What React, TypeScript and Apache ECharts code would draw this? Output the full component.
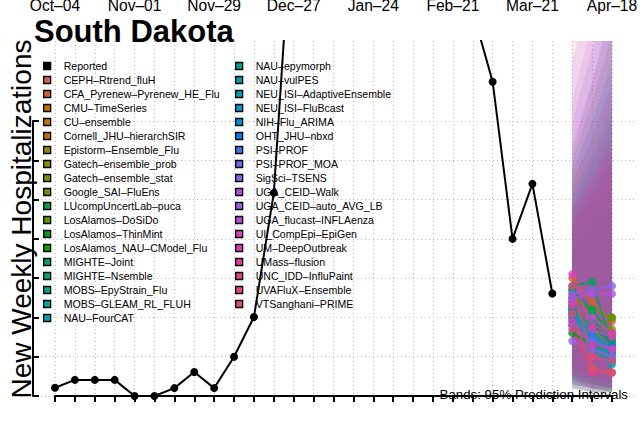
import React, { useEffect, useRef } from "react";
import * as echarts from "echarts";

const FONT = "'Liberation Sans', Arial, Helvetica, sans-serif";

// Top axis tick labels (every 4 weeks starting week 0)
const tickLabels = ["Oct–04", "Nov–01", "Nov–29", "Dec–27", "Jan–24", "Feb–21", "Mar–21", "Apr–18"];

// Reported weekly hospitalizations (weeks since Oct-04)
const reportedWeeks = [0, 1, 2, 3, 4, 5, 6, 7, 8, 9, 10, 11, 12, 13, 14, 15, 16, 17, 18, 19, 20, 21, 22, 23, 24, 25];
const reportedValues = [2.1, 4.1, 4.1, 4.1, 0, 0, 2.0, 6.1, 2.0, 10, 20.1, 51.7, 129, 165, 190, 200, 185, 170, 150, 135, 115, 98, 80, 40, 54, 26.1];

const forecastWeeks = [26, 27, 28];

const modelNames = [
  "CEPH–Rtrend_fluH",
  "CFA_Pyrenew–Pyrenew_HE_Flu",
  "CMU–TimeSeries",
  "CU–ensemble",
  "Cornell_JHU–hierarchSIR",
  "Epistorm–Ensemble_Flu",
  "Gatech–ensemble_prob",
  "Gatech–ensemble_stat",
  "Google_SAI–FluEns",
  "LUcompUncertLab–puca",
  "LosAlamos–DoSiDo",
  "LosAlamos–ThinMint",
  "LosAlamos_NAU–CModel_Flu",
  "MIGHTE–Joint",
  "MIGHTE–Nsemble",
  "MOBS–EpyStrain_Flu",
  "MOBS–GLEAM_RL_FLUH",
  "NAU–FourCAT",
  "NAU–epymorph",
  "NAU–vulPES",
  "NEU_ISI–AdaptiveEnsemble",
  "NEU_ISI–FluBcast",
  "NIH–Flu_ARIMA",
  "OHT_JHU–nbxd",
  "PSI–PROF",
  "PSI–PROF_MOA",
  "SigSci–TSENS",
  "UGA_CEID–Walk",
  "UGA_CEID–auto_AVG_LB",
  "UGA_flucast–INFLAenza",
  "UI_CompEpi–EpiGen",
  "UM–DeepOutbreak",
  "UMass–flusion",
  "UNC_IDD–InfluPaint",
  "UVAFluX–Ensemble",
  "VTSanghani–PRIME",
];

const modelColors = [
  "#D9604E", "#D2602E", "#CC6A00", "#C07500", "#C07000", "#948600", "#8B8B00", "#7E8E00", "#6E9300",
  "#00A048", "#5A9600", "#009A1A", "#00A000", "#00A060", "#00A373", "#00A488", "#00A59C", "#00A0B0",
  "#00A08A", "#00A0A0", "#009DB8", "#0099C8", "#0090D8", "#0080E8", "#3A78E8", "#6A6AE8", "#8A60E6",
  "#B050DF", "#9660E0", "#C048D8", "#D83EC0", "#DE3DAE", "#E03E9C", "#E04488", "#E04A74", "#DD5060",
];

// Medians for weeks 26, 27, 28
const medians = [
  [22, 16, 12], [30, 24, 19], [24, 18, 14], [21, 15, 11], [26, 20, 16], [23, 17, 13], [20, 16, 14],
  [22, 19, 17], [25, 22, 20], [27, 22, 15], [18, 16, 20], [16, 13, 11], [22, 18, 14], [28, 29, 13],
  [27, 21, 12], [24, 17, 10], [21, 14, 9], [23, 16, 9], [25, 19, 15], [19, 12, 8], [22, 15, 10],
  [20, 13, 9], [21, 16, 12], [23, 18, 13], [20, 15, 11], [18, 14, 12], [26, 27, 28], [25, 26, 26],
  [14, 12, 10], [24, 20, 16], [31, 17, 15], [19, 13, 12], [23, 18, 16], [17, 6, 6], [28, 10, 9], [21, 7, 6],
];

// 95% PI lower bounds
const lower = [
  [6, 4, 3], [9, 6, 4], [7, 5, 3], [5, 3, 2], [4, 3, 2], [8, 5, 4], [6, 4, 3], [7, 5, 4], [8, 6, 5],
  [3, 2, 1], [5, 4, 3], [4, 3, 2], [2, 1, 1], [9, 6, 3], [8, 5, 3], [5, 3, 2], [4, 2, 1], [3, 2, 1],
  [2, 1, 1], [3, 2, 1], [7, 4, 3], [5, 3, 2], [4, 3, 2], [6, 4, 3], [5, 3, 2], [3, 2, 2], [6, 5, 4],
  [3, 2, 2], [5, 4, 3], [2, 1, 1], [4, 2, 2], [6, 4, 3], [7, 5, 4], [2, 1, 1], [5, 2, 2], [4, 2, 1],
];

// 95% PI upper bounds
const upper = [
  [40, 48, 55], [45, 52, 60], [36, 40, 44], [38, 44, 50], [48, 58, 68], [37, 42, 47], [40, 44, 48],
  [42, 48, 54], [38, 42, 48], [50, 60, 72], [36, 40, 45], [44, 52, 60], [60, 75, 92], [42, 46, 50],
  [43, 48, 54], [45, 52, 60], [48, 56, 66], [52, 62, 74], [62, 80, 100], [56, 70, 86], [40, 45, 50],
  [44, 50, 58], [54, 66, 80], [46, 54, 64], [50, 60, 70], [70, 88, 105], [58, 70, 84], [85, 105, 125],
  [48, 56, 66], [75, 95, 115], [64, 80, 98], [46, 54, 62], [44, 50, 56], [92, 115, 140], [48, 55, 64],
  [55, 65, 78],
];

const col1 = ["Reported", ...modelNames.slice(0, 18)];
const col2 = modelNames.slice(18);

export default function App() {
  const ref = useRef<HTMLDivElement>(null);

  useEffect(() => {
    if (!ref.current) return;
    const chart = echarts.init(ref.current, null, { renderer: "svg" });

    // One band row per model: [w, lo, hi] for each forecast week, flattened
    const bandRows = modelNames.map((_, m) => {
      const row: number[] = [];
      forecastWeeks.forEach((w, i) => row.push(w, lower[m][i], upper[m][i]));
      return row;
    });
    const nW = forecastWeeks.length;
    const xDims = forecastWeeks.map((_, i) => i * 3);
    const yDims: number[] = [];
    forecastWeeks.forEach((_, i) => yDims.push(i * 3 + 1, i * 3 + 2));

    const bandSeries = {
      type: "custom",
      name: "bands",
      xAxisIndex: 0,
      yAxisIndex: 0,
      clip: true,
      z: 2,
      silent: true,
      encode: { x: xDims, y: yDims },
      data: bandRows,
      renderItem: (params: any, api: any) => {
        const bot: number[][] = [];
        const top: number[][] = [];
        for (let i = 0; i < nW; i++) {
          bot.push(api.coord([api.value(i * 3), api.value(i * 3 + 1)]));
          top.push(api.coord([api.value(i * 3), api.value(i * 3 + 2)]));
        }
        top.reverse();
        return {
          type: "polygon",
          shape: { points: bot.concat(top) },
          style: { fill: echarts.color.modifyAlpha(modelColors[params.dataIndex], 0.12), stroke: "none" },
        };
      },
    };

    const medianSeries = modelNames.map((name, m) => ({
      type: "line",
      name,
      xAxisIndex: 0,
      yAxisIndex: 0,
      z: 3,
      symbol: "circle",
      symbolSize: 8,
      showSymbol: true,
      color: modelColors[m],
      itemStyle: { color: modelColors[m], opacity: 0.8 },
      lineStyle: { color: modelColors[m], width: 2, opacity: 0.8 },
      data: forecastWeeks.map((w, i) => [w, medians[m][i]]),
    }));

    const reported = {
      type: "line",
      name: "Reported",
      xAxisIndex: 0,
      yAxisIndex: 0,
      z: 5,
      symbol: "circle",
      symbolSize: 8,
      color: "#000",
      itemStyle: { color: "#000" },
      lineStyle: { color: "#000", width: 2 },
      data: reportedWeeks.map((w, i) => [w, reportedValues[i]]),
    };

    const legendCommon = {
      orient: "vertical",
      top: 60.5,
      padding: 0,
      icon: "rect",
      itemWidth: 7,
      itemHeight: 7,
      itemGap: 3,
      selectedMode: false,
      itemStyle: { borderColor: "#000", borderWidth: 1.3, opacity: 1 },
      textStyle: { fontSize: 10.6, lineHeight: 11, color: "#000", fontFamily: FONT, padding: [0, 0, 0, 8] },
    };

    const grid = "#b8b8b8";

    chart.setOption({
      animation: false,
      backgroundColor: "#fff",
      textStyle: { fontFamily: FONT },
      title: [
        {
          text: "South Dakota",
          left: 34,
          top: 16,
          padding: 0,
          textStyle: { fontSize: 31, fontWeight: "bold", color: "#000", fontFamily: FONT },
        },
        {
          text: "Bands: 95% Prediction Intervals",
          right: 12,
          top: 387.5,
          padding: 0,
          z: 6,
          textStyle: { fontSize: 13.3, fontWeight: "normal", color: "#000", fontFamily: FONT },
        },
      ],
      legend: [
        { ...legendCommon, left: 43, data: col1 },
        { ...legendCommon, left: 235, data: col2 },
      ],
      grid: [
        { left: 55, right: 28, top: 41, bottom: 14, containLabel: false, outerBoundsMode: "none" },
        { left: 33, right: 6, top: 121, bottom: 27, containLabel: false, outerBoundsMode: "none" },
      ],
      xAxis: [
        {
          type: "value",
          gridIndex: 0,
          min: 0,
          max: 28,
          interval: 1,
          position: "bottom",
          axisLine: { show: true, lineStyle: { color: "#000", width: 2 } },
          axisTick: { show: true, length: 6, lineStyle: { color: "#000", width: 2 } },
          axisLabel: { show: false },
          splitLine: { show: true, lineStyle: { color: grid, width: 1, type: [1, 3] } },
        },
        {
          type: "value",
          gridIndex: 0,
          min: 0,
          max: 28,
          interval: 4,
          position: "top",
          axisLine: { show: false },
          axisTick: { show: false },
          splitLine: { show: false },
          axisLabel: {
            show: true,
            margin: 36,
            verticalAlign: "middle",
            fontSize: 15.6,
            color: "#000",
            fontFamily: FONT,
            showMinLabel: true,
            showMaxLabel: true,
            formatter: (v: number) => tickLabels[Math.round(v / 4)] ?? "",
          },
        },
        { type: "value", gridIndex: 1, min: 0, max: 1, show: false },
      ],
      yAxis: [
        {
          type: "value",
          gridIndex: 0,
          min: -3.31,
          max: 90.36,
          axisLine: { show: false },
          axisTick: { show: false },
          axisLabel: { show: false },
          splitLine: { show: false },
          name: "New Weekly Hospitalizations",
          nameLocation: "middle",
          nameRotate: 90,
          nameGap: 33.7,
          nameTextStyle: {
            fontSize: 28,
            color: "#000",
            fontFamily: FONT,
            verticalAlign: "middle",
            padding: [0, 0, 0, 12],
          },
        },
        {
          type: "value",
          gridIndex: 1,
          min: 0,
          max: 70,
          interval: 10,
          position: "right",
          axisLine: { show: true, lineStyle: { color: "#000", width: 2 } },
          axisTick: { show: true, length: 6, lineStyle: { color: "#000", width: 2 } },
          axisLabel: { show: false },
          splitLine: { show: true, lineStyle: { color: grid, width: 1, type: [1, 3] } },
        },
      ],
      series: [bandSeries, ...medianSeries, reported],
    });

    return () => chart.dispose();
  }, []);

  return (
    <div
      ref={ref}
      style={{ position: "fixed", left: 0, top: 0, width: 640, height: 423, background: "#fff" }}
    />
  );
}
